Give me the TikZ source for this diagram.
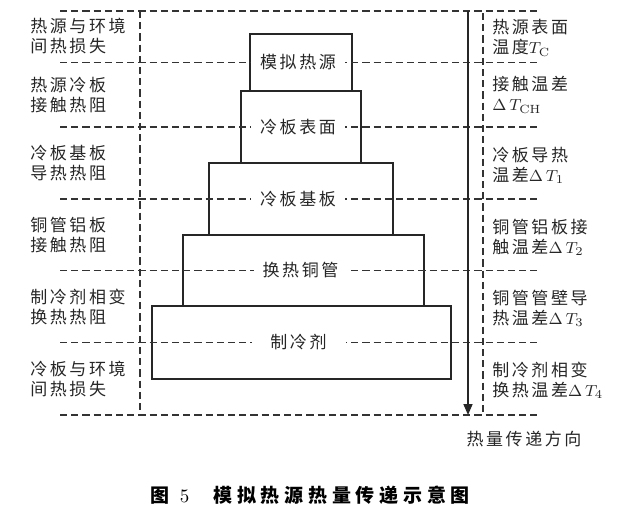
\documentclass[tikz,border=0pt]{standalone}
\usepackage{fontspec}
\usetikzlibrary{arrows.meta,positioning}
\newfontfamily\cjk[LetterSpace=15]{Noto Sans CJK SC}
\newfontfamily\capfont[LetterSpace=25]{Noto Sans CJK SC}

\tikzset{
  guide/.style={dash pattern=on 3.6pt off 2pt,line width=0.85pt,black!80},
  layer/.style={draw,line width=0.8pt,inner sep=0pt,outer sep=0pt,black!85},
  tag/.style={fill=white,inner sep=1pt,minimum width=47pt,font=\cjk\fontsize{8.5}{10}\selectfont,text=black!85},
  lbl/.style={anchor=west,align=left,inner sep=0pt,font=\cjk\fontsize{8.5}{10}\selectfont,text=black!85},
}

\begin{document}
\begin{tikzpicture}[x=0.5pt,y=-0.5pt]
  \useasboundingbox (0,0) rectangle (621,515);

  % layers, top to bottom
  \node[layer,minimum width=51pt,minimum height=28.5pt] (src) at (301,62.5) {};
  \node[layer,minimum width=60pt,minimum height=36pt,below=0pt of src] (surf) {};
  \node[layer,minimum width=92pt,minimum height=36pt,below=0pt of surf] (base) {};
  \node[layer,minimum width=120.5pt,minimum height=35.5pt,below=0pt of base,xshift=1.25pt] (tube) {};
  \node[layer,minimum width=149.5pt,minimum height=36.5pt,below=0pt of tube,xshift=-1pt] (refr) {};

  \coordinate (nw) at (60,11);
  \coordinate (ne) at (537,11);
  \coordinate (sw) at (60,415);
  \coordinate (se) at (537,415);
  \coordinate (lt) at (140,11);
  \coordinate (lb) at (140,415);
  \coordinate (rt) at (483,13);
  \coordinate (rb) at (483,415);
  \coordinate (ft) at (468,11);
  \coordinate (fb) at (468,415);

  \draw[guide] (nw) -- (ne);
  \draw[guide] (sw) -- (se);
  \foreach \n in {src,surf,base,tube,refr}
    \draw[guide] (nw |- \n) -- (ne |- \n);
  \draw[guide] (lt) -- (lb);
  \draw[guide] (rt) -- (rb);
  \draw[line width=0.8pt,black!85,-{Triangle[length=5.5pt,width=4.5pt]}] (ft) -- (fb);

  \foreach \n/\t in {src/模拟热源,surf/冷板表面,base/冷板基板,tube/换热铜管,refr/制冷剂}
    \node[tag] (\n-t) at ([xshift=-1.5pt]\n.center) {\t};

  % losses on the left, temperature drops on the right
  \foreach \y/\t [count=\i] in {36/{热源与环境\\间热损失},95/{热源冷板\\接触热阻},163/{冷板基板\\导热热阻},235/{铜管铝板\\接触热阻},307/{制冷剂相变\\换热热阻},379/{冷板与环境\\间热损失}}
    \node[lbl] (loss\i) at (30,\y) {\t};
  \foreach \y/\t [count=\i] in {38/{热源表面\\温度$T_{\mathrm{C}}$},95/{接触温差\\$\Delta\,T_{\mathrm{CH}}$},165/{冷板导热\\温差$\Delta\,T_1$},237/{铜管铝板接\\触温差$\Delta\,T_2$},308/{铜管管壁导\\热温差$\Delta\,T_3$},380/{制冷剂相变\\换热温差$\Delta\,T_4$}}
    \node[lbl] (drop\i) at (492,\y) {\t};

  \node[lbl,anchor=center] (dir) at (524,439) {热量传递方向};
  \node[inner sep=0pt,font=\capfont\bfseries\fontsize{9.5}{11}\selectfont] (cap) at (310,495)
    {图\hspace{3pt}\textmd{\rmfamily 5}\hspace{12pt}模拟热源热量传递示意图};
\end{tikzpicture}
\end{document}
